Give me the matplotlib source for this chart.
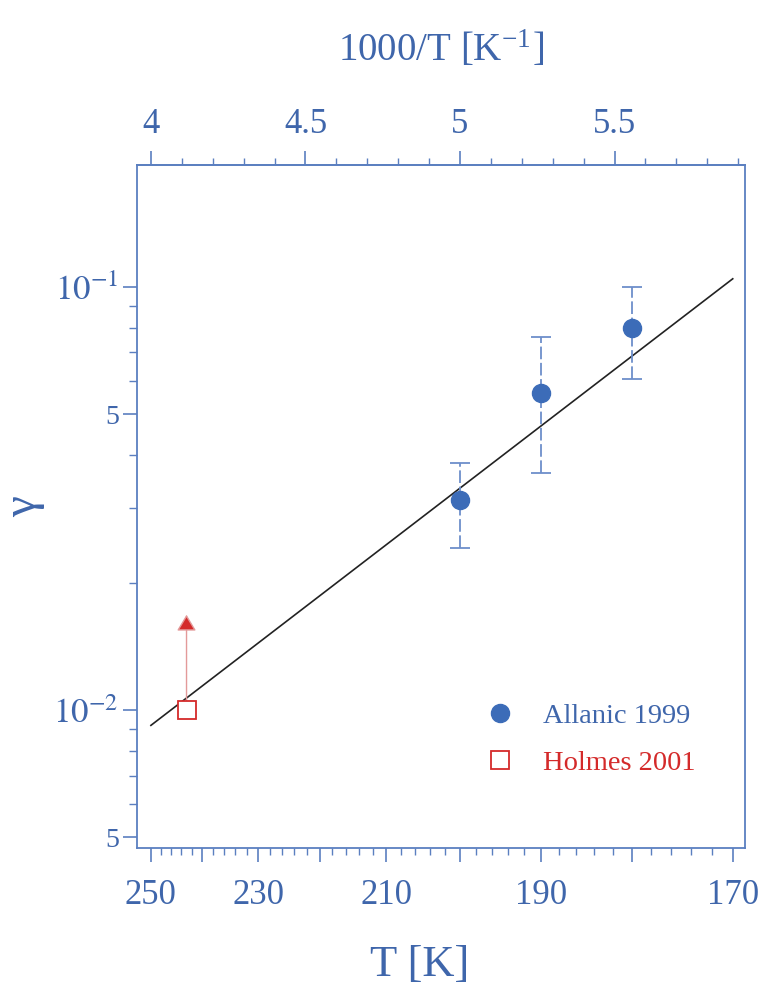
import matplotlib
matplotlib.use("Agg")
import matplotlib.pyplot as plt
from matplotlib.ticker import FixedLocator, MultipleLocator, NullFormatter
import numpy as np

# ---- data ----
allanic_T = [200, 190, 180]
allanic_gamma = [0.0313, 0.0562, 0.0801]
allanic_err_hi = [0.0383, 0.0763, 0.1002]
allanic_err_lo = [0.0241, 0.0363, 0.0605]

holmes_T = [243]
holmes_gamma = [0.0100]
holmes_arrow_top = [0.0168]

fit_T = [250, 170]
fit_gamma = [0.0092, 0.1045]

bottom_major_T = [250, 240, 230, 220, 210, 200, 190, 180, 170]
bottom_label_T = [250, 230, 210, 190, 170]
bottom_minor_T = [t for t in range(170, 252, 2)]
top_ticks = [4, 4.5, 5, 5.5]
top_labels = ["4", "4.5", "5", "5.5"]
y_major = [0.005, 0.01, 0.05, 0.1]
y_major_labels = ["5", r"$10^{-2}$", "5", r"$10^{-1}$"]
y_minor = [0.006, 0.007, 0.008, 0.009, 0.02, 0.03, 0.04, 0.06, 0.07, 0.08, 0.09]

# ---- style ----
AX = "#5b7fc0"
TXT = "#3f66ab"
BLUE = "#3c6cb8"
EBLUE = "#6d8fca"
RED = "#d42a2a"

plt.rcParams["font.family"] = ["Liberation Serif", "DejaVu Serif"]
plt.rcParams["mathtext.fontset"] = "stix"

fig = plt.figure(figsize=(7.58, 9.91), dpi=100)
ax = fig.add_axes([137/758, 1-848/991, (745-137)/758, (848-165)/991])

inv = lambda T: 1000.0/np.asarray(T, dtype=float)

ax.set_yscale("log")
ax.set_xlim(3.955, 5.922)
ax.set_ylim(10**-2.326, 10**-0.712)

# fit line
ax.plot(inv(fit_T), fit_gamma, color="#222222", lw=1.2, zorder=2)

# Allanic
ag = np.array(allanic_gamma)
yerr = [ag - np.array(allanic_err_lo), np.array(allanic_err_hi) - ag]
eb = ax.errorbar(inv(allanic_T), ag, yerr=yerr, fmt="none", ecolor=EBLUE,
                 elinewidth=1.3, capsize=7, capthick=1.3, zorder=3)
for lc in eb[2]:
    lc.set_linestyle((0, (7, 2)))
ax.plot(inv(allanic_T), ag, "o", color=BLUE, ms=13, zorder=4, label="Allanic 1999")

# Holmes arrow (lower limit)
ax.annotate("", xy=(inv(holmes_T)[0], holmes_arrow_top[0]),
            xytext=(inv(holmes_T)[0], holmes_gamma[0]),
            arrowprops=dict(arrowstyle="-|>,head_length=0.5,head_width=0.3",
                            ec="#e39a9a", fc=RED, lw=1.0, mutation_scale=20,
                            shrinkA=0, shrinkB=0),
            zorder=3)
ax.plot(inv(holmes_T), holmes_gamma, "s", mfc="white", mec=RED, mew=1.3,
        ms=12.5, zorder=5, label="Holmes 2001")

# ---- axes styling ----
for s in ax.spines.values():
    s.set_color(AX)
    s.set_linewidth(1.3)

ax.xaxis.set_major_locator(FixedLocator(list(inv(bottom_major_T))))
ax.xaxis.set_minor_locator(FixedLocator(list(inv(bottom_minor_T))))
ax.set_xticklabels([str(t) if t in bottom_label_T else "" for t in bottom_major_T])
ax.yaxis.set_major_locator(FixedLocator(y_major))
ax.yaxis.set_minor_locator(FixedLocator(y_minor))
ax.yaxis.set_minor_formatter(NullFormatter())
ax.set_yticklabels(y_major_labels)

ax.tick_params(axis="x", which="major", direction="out", length=10, width=1.2,
               color=AX, labelcolor=TXT, labelsize=25, pad=12)
ax.tick_params(axis="x", which="minor", direction="out", length=5, width=1.0, color=AX)
ax.tick_params(axis="y", which="major", direction="out", length=10, width=1.2,
               color=AX, labelcolor=TXT, labelsize=25, pad=3)
ax.tick_params(axis="y", which="minor", direction="out", length=6, width=1.0, color=AX)
for lab, txt in zip(ax.get_yticklabels(), y_major_labels):
    if txt == "5":
        lab.set_fontsize(20)

top = ax.secondary_xaxis("top")
top.set_xticks(top_ticks)
top.set_xticklabels(top_labels)
top.xaxis.set_minor_locator(MultipleLocator(0.1))
top.tick_params(axis="x", which="major", direction="out", length=10, width=1.2,
                color=AX, labelcolor=TXT, labelsize=25, pad=7)
top.tick_params(axis="x", which="minor", direction="out", length=5, width=1.0, color=AX)
top.spines["top"].set_color(AX)
top.spines["top"].set_linewidth(1.3)

ax.set_xlabel("T [K]", fontsize=32, color=TXT)
ax.xaxis.set_label_coords(0.465, -0.142)
top.set_xlabel(r"1000/T [K$^{\mathregular{-1}}$]", fontsize=28, color=TXT, labelpad=34)
ax.set_ylabel("γ", fontsize=34, color=TXT)
ax.yaxis.set_label_coords(-0.151, 0.5)

leg = ax.legend(loc="lower left", bbox_to_anchor=(0.527, 0.068), frameon=False,
                fontsize=20.5, handletextpad=0.9, labelspacing=0.75, handlelength=1.2)
for t, c in zip(leg.get_texts(), [TXT, RED]):
    t.set_color(c)

fig.savefig("out.png", dpi=100)
